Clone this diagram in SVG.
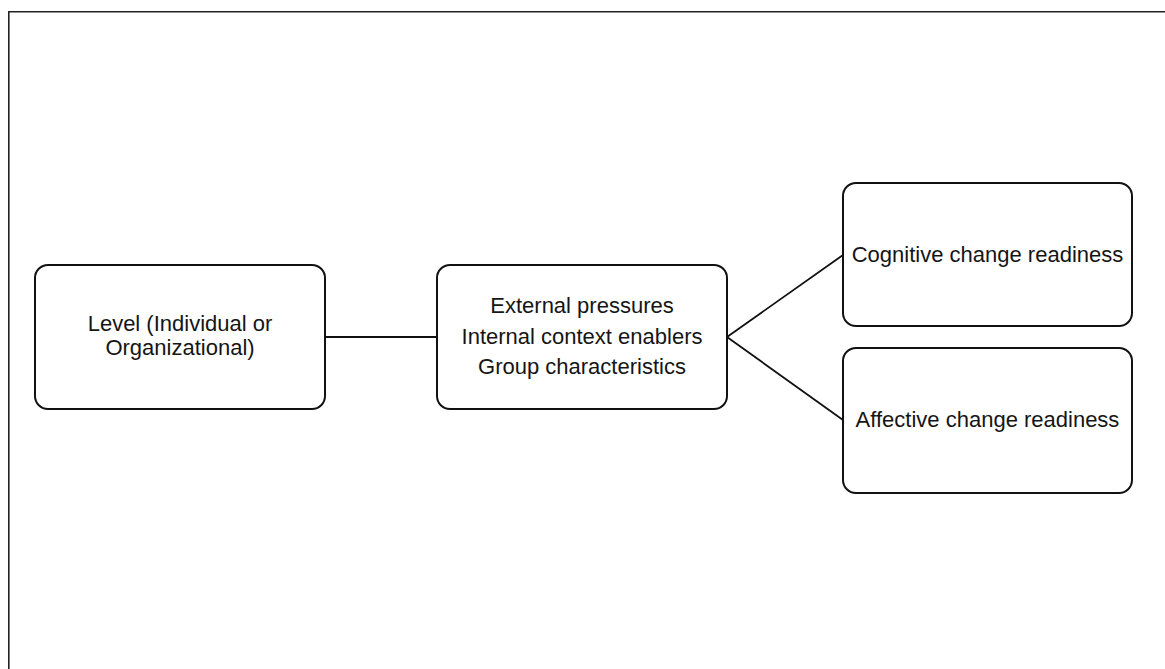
<svg xmlns="http://www.w3.org/2000/svg" width="1165" height="669" viewBox="0 0 1165 669">
  <style>
    .box { fill: #ffffff; stroke: #111111; stroke-width: 2; }
    .link { fill: none; stroke: #111111; stroke-width: 1.8; }
    .frame { fill: none; stroke: #222222; stroke-width: 1.6; }
    .label { font-family: "Liberation Sans", Arial, sans-serif; font-size: 22px; fill: #151515; text-anchor: middle; }
  </style>
  <rect width="1165" height="669" fill="#ffffff"/>
  <!-- outer frame (top and left edges) -->
  <path class="frame" d="M8.8,669 V11.8 H1165"/>

  <g id="connectors">
    <line class="link" x1="325" y1="337" x2="437" y2="337"/>
    <line class="link" x1="727" y1="337" x2="843" y2="255"/>
    <line class="link" x1="727" y1="337" x2="843" y2="420"/>
  </g>

  <g id="level">
    <rect class="box" x="35" y="265" width="290" height="144" rx="13"/>
    <text class="label" x="180" y="331">Level (Individual or</text>
    <text class="label" x="180" y="355">Organizational)</text>
  </g>

  <g id="context">
    <rect class="box" x="437" y="265" width="290" height="144" rx="13"/>
    <text class="label" x="582" y="313">External pressures</text>
    <text class="label" x="582" y="344">Internal context enablers</text>
    <text class="label" x="582" y="374">Group characteristics</text>
  </g>

  <g id="cognitive">
    <rect class="box" x="843" y="183" width="289" height="143" rx="13"/>
    <text class="label" x="987.5" y="262">Cognitive change readiness</text>
  </g>

  <g id="affective">
    <rect class="box" x="843" y="348" width="289" height="145" rx="13"/>
    <text class="label" x="987.5" y="427">Affective change readiness</text>
  </g>
</svg>
